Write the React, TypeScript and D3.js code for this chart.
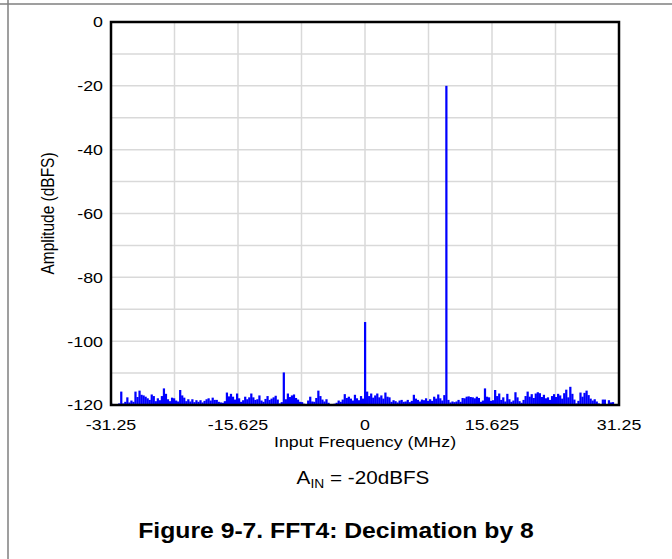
import React from "react";
import * as d3 from "d3";

// FFT bin grid
const FREQ_START = -31.25;
const BIN_STEP = 0.25;

// Amplitude (dBFS) per bin
const amplitudes: number[] = [
  -119.3, -119.8, -120, -119.9, -119.5, -115.8, -119.5, -119.0, -117.6, -119.2,
  -118.6, -119.0, -115.8, -117.5, -115.5, -116.8, -117.0, -117.4, -117.9, -118.4,
  -116.7, -117.2, -118.8, -117.9, -118.5, -117.2, -114.8, -116.5, -118.2, -118.8,
  -117.7, -117.9, -118.6, -118.9, -115.3, -117.0, -117.7, -118.8, -118.2, -118.9,
  -118.2, -119.1, -118.5, -119.0, -118.5, -119.2, -118.7, -118.2, -117.9, -118.6,
  -117.7, -118.4, -118.4, -119.0, -119.2, -119.3, -118.8, -116.1, -117.3, -116.5,
  -117.4, -118.3, -116.4, -117.9, -119.0, -118.5, -117.4, -118.2, -117.6, -116.4,
  -117.6, -118.4, -118.2, -117.0, -118.6, -119.0, -118.1, -117.2, -118.4, -118.0,
  -117.6, -117.1, -118.3, -119.5, -119.1, -109.8, -118.2, -116.4, -117.5, -117.0,
  -116.7, -117.8, -118.3, -119.0, -119.1, -119.6, -119.9, -118.6, -117.4, -118.9,
  -119.0, -117.8, -115.5, -117.2, -118.3, -118.9, -118.2, -119.3, -119.7, -119.9,
  -119.6, -119.3, -118.6, -119.0, -118.3, -116.6, -117.8, -117.4, -118.0, -118.6,
  -116.8, -117.9, -118.5, -117.2, -118.0, -94.0, -115.8, -117.2, -116.4, -117.7,
  -117.0, -116.4, -117.6, -117.0, -118.0, -116.1, -117.4, -117.6, -119.0, -118.5,
  -118.8, -119.2, -118.6, -118.4, -119.0, -118.9, -118.4, -119.1, -118.7, -116.8,
  -118.0, -118.4, -118.9, -118.3, -118.5, -117.9, -118.7, -118.2, -118.7, -117.4,
  -118.0, -116.7, -117.9, -118.6, -116.9, -20.0, -118.4, -119.2, -118.9, -119.1,
  -118.9, -118.4, -119.0, -117.8, -117.9, -117.4, -117.3, -117.5, -117.6, -117.9,
  -117.4, -117.8, -119.0, -118.6, -114.8, -117.4, -117.6, -118.7, -118.5, -115.3,
  -117.2, -116.4, -118.4, -117.6, -118.9, -116.5, -118.2, -119.0, -118.6, -116.0,
  -117.6, -118.8, -119.3, -118.4, -117.2, -115.8, -117.4, -116.6, -117.8, -116.4,
  -116.0, -116.3, -117.5, -116.8, -117.9, -117.6, -118.4, -117.2, -116.6, -117.5,
  -116.5, -117.0, -118.0, -116.3, -115.2, -117.6, -114.3, -116.5, -118.3, -119.5,
  -118.7, -116.1, -117.4, -116.2, -115.5, -116.9, -118.0, -118.6, -118.2, -118.9,
  -119.5, -119.8, -118.3, -118.3, -119.7, -118.5, -119.2, -119.1, -119.8, -119.9,
];

const xTickLabels = ["-31.25", "-15.625", "0", "15.625", "31.25"];
const xTickValues = [-31.25, -15.625, 0, 15.625, 31.25];
const xGridValues = [-23.4375, -15.625, -7.8125, 0, 7.8125, 15.625, 23.4375];
const yTickValues = [0, -20, -40, -60, -80, -100, -120];
const yGridValues = [-10, -20, -30, -40, -50, -60, -70, -80, -90, -100, -110];

const FONT = "'Liberation Sans', Arial, Helvetica, sans-serif";
const SX = 1.15;

function T(props: {
  x: number;
  y: number;
  size: number;
  anchor?: "start" | "middle" | "end";
  weight?: string;
  rotate?: number;
  children: React.ReactNode;
}) {
  const { x, y, size, anchor = "middle", weight = "normal", rotate = 0, children } = props;
  return (
    <text
      transform={`translate(${x},${y}) scale(${SX},1)${rotate ? ` rotate(${rotate})` : ""}`}
      textAnchor={anchor}
      dy="0.35em"
      fontSize={size}
      fontWeight={weight}
      fill="#000"
    >
      {children}
    </text>
  );
}

export default function App() {
  const W = 672;
  const H = 559;
  const left = 111;
  const right = 619;
  const top = 22;
  const bottom = 405;

  const x = d3.scaleLinear().domain([-31.25, 31.25]).range([left, right]);
  const y = d3.scaleLinear().domain([-120, 0]).range([bottom, top]);
  const bw = x(FREQ_START + BIN_STEP) - x(FREQ_START);

  const bars = amplitudes.map((a, i) => ({ f: FREQ_START + i * BIN_STEP, a }));

  return (
    <svg
      width={W}
      height={H}
      style={{ position: "absolute", left: 0, top: 0, background: "#fff" }}
      fontFamily={FONT}
    >
      <defs>
        <clipPath id="plotclip">
          <rect x={left} y={top} width={right - left} height={bottom - top} />
        </clipPath>
      </defs>
      {/* page frame lines */}
      <line x1={0} x2={W} y1={4} y2={4} stroke="#7f7f7f" strokeWidth={1.5} />
      <line x1={8} x2={8} y1={0} y2={H} stroke="#7f7f7f" strokeWidth={1.5} />

      {/* grid */}
      {xGridValues.map((v) => (
        <line key={"gx" + v} x1={x(v)} x2={x(v)} y1={top} y2={bottom} stroke="#d9d9d9" strokeWidth={1.5} />
      ))}
      {yGridValues.map((v) => (
        <line key={"gy" + v} x1={left} x2={right} y1={y(v)} y2={y(v)} stroke="#d9d9d9" strokeWidth={1.5} />
      ))}

      {/* spectrum */}
      <g clipPath="url(#plotclip)">
        {bars.map((d, i) => (
          <rect
            key={i}
            x={x(d.f) - bw / 2}
            width={bw + 0.2}
            y={y(d.a)}
            height={y(-120) - y(d.a) + 2}
            fill="#0000ff"
          />
        ))}
      </g>

      {/* plot border */}
      <rect x={left} y={top} width={right - left} height={bottom - top} fill="none" stroke="#000" strokeWidth={2.5} />

      {/* y tick labels */}
      {yTickValues.map((v) => (
        <T key={"yt" + v} x={left - 8} y={y(v)} size={15.5} anchor="end">
          {v}
        </T>
      ))}
      {/* x tick labels */}
      {xTickValues.map((v, i) => (
        <T key={"xt" + v} x={x(v)} y={425} size={15.5}>
          {xTickLabels[i]}
        </T>
      ))}

      <T x={(left + right) / 2} y={442} size={15.5}>
        Input Frequency (MHz)
      </T>
      <T x={48} y={(top + bottom) / 2} size={15.5} rotate={-90}>
        Amplitude (dBFS)
      </T>

      <T x={363} y={478} size={18}>
        A<tspan fontSize={12} dy="4">IN</tspan>
        <tspan dy="-4"> = -20dBFS</tspan>
      </T>

      <T x={336} y={530} size={21.5} weight="bold">
        Figure 9-7. FFT4: Decimation by 8
      </T>
    </svg>
  );
}
